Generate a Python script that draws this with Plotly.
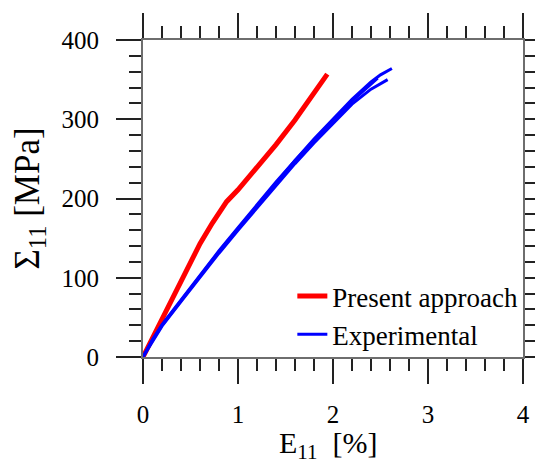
import plotly.graph_objects as go

# Present approach (red)
pres_x = [0.0, 0.2, 0.4, 0.6, 0.73, 0.8, 0.88, 1.0, 1.2, 1.4, 1.6, 1.8, 1.94]
pres_y = [0, 47, 94, 143, 169, 183, 196, 211, 239, 268, 299, 332, 357]

# Experimental (blue) - three specimen curves
exp1_x = [0.0, 0.1, 0.2, 0.4, 0.6, 0.8, 1.0, 1.2, 1.4, 1.6, 1.8, 2.0, 2.2, 2.4, 2.47]
exp1_y = [0, 22, 41, 72, 104, 134, 163, 192, 221, 248, 274, 299, 323, 345, 352]
exp2_x = [0.0, 0.1, 0.2, 0.4, 0.6, 0.8, 1.0, 1.2, 1.4, 1.6, 1.8, 2.0, 2.2, 2.4, 2.5, 2.62]
exp2_y = [0, 21, 40, 71, 103, 133, 162, 191, 220, 248, 275, 300, 325, 347, 356, 364]
exp3_x = [0.0, 0.1, 0.2, 0.4, 0.6, 0.8, 1.0, 1.2, 1.4, 1.6, 1.8, 2.0, 2.2, 2.4, 2.575]
exp3_y = [0, 20, 39, 70, 101, 131, 160, 188, 216, 244, 270, 295, 319, 338, 350]

x_ticks = [0, 1, 2, 3, 4]
y_ticks = [0, 100, 200, 300, 400]
x_title = "E<sub>11</sub>\u00a0\u00a0[%]"
y_title = "Σ<sub>11</sub> [MPa]"

FONT = "Times New Roman, Liberation Serif, serif"

fig = go.Figure()
fig.add_trace(go.Scatter(x=pres_x, y=pres_y, mode="lines", name="Present approach",
                         line=dict(color="#ff0000", width=5)))
for i, (xs, ys) in enumerate([(exp1_x, exp1_y), (exp2_x, exp2_y), (exp3_x, exp3_y)]):
    fig.add_trace(go.Scatter(x=xs, y=ys, mode="lines", name="Experimental",
                             legendgroup="exp", showlegend=(i == 0),
                             line=dict(color="#0000ff", width=3)))

axis_common = dict(
    showline=True, linecolor="#6e6e6e", linewidth=2, mirror="allticks",
    ticks="outside", ticklen=25, tickwidth=1.5, tickcolor="#222",
    showgrid=False, zeroline=False, automargin=False,
    tickfont=dict(family=FONT, size=25, color="black"),
)

# page body has an 8px default margin, so the figure is sized to fit the window
fig.update_layout(
    width=535, height=453,
    margin=dict(l=135, r=20, t=32, b=104, autoexpand=False),
    paper_bgcolor="white", plot_bgcolor="white",
    font=dict(family=FONT, color="black", size=25),
    xaxis=dict(range=[0, 4], tickvals=x_ticks, ticklabelstandoff=9,
               minor=dict(dtick=0.2, ticks="outside", ticklen=12, tickwidth=1.5, tickcolor="#222"),
               **axis_common),
    yaxis=dict(range=[0, 400], tickvals=y_ticks, ticklabelstandoff=12,
               minor=dict(dtick=20, ticks="outside", ticklen=12, tickwidth=1.5, tickcolor="#222"),
               title=dict(text=y_title, font=dict(family=FONT, size=35)),
               **axis_common),
    legend=dict(x=0.393, y=0.268, xanchor="left", yanchor="top",
                bgcolor="rgba(0,0,0,0)", font=dict(family=FONT, size=27),
                tracegroupgap=0, itemwidth=30),
    showlegend=True,
    annotations=[dict(text=x_title, xref="paper", yref="paper", x=0.488, y=-0.21,
                      xanchor="center", yanchor="top", showarrow=False,
                      font=dict(family=FONT, size=30, color="black"))],
)

fig.write_html("out.html")
